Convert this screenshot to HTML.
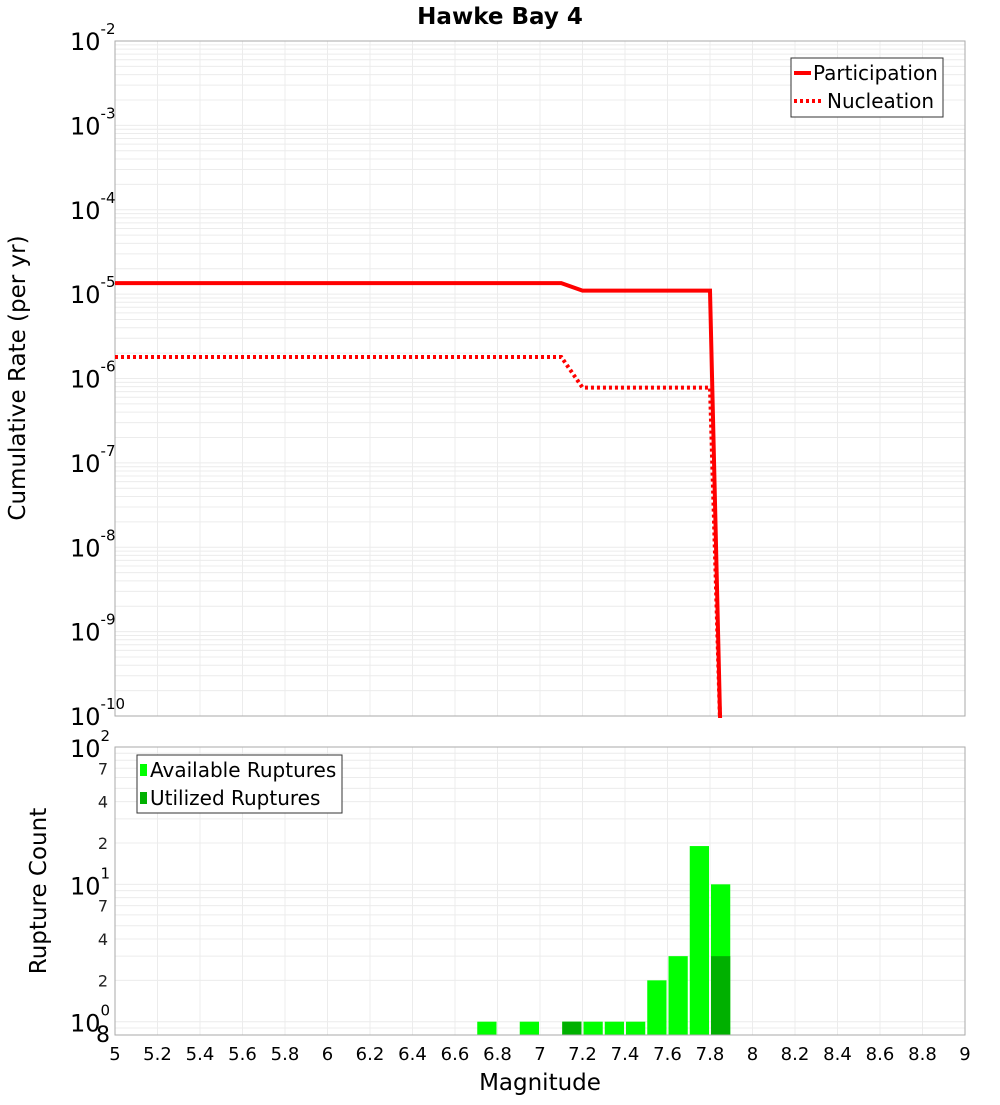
<!DOCTYPE html>
<html><head><meta charset="utf-8"><style>
body{margin:0;background:#fff;font-family:"Liberation Sans","DejaVu Sans",sans-serif}
svg text{font-family:"DejaVu Sans","Liberation Sans",sans-serif}
</style></head><body>
<svg id="c" width="1000" height="1100" xmlns="http://www.w3.org/2000/svg">
<rect width="1000" height="1100" fill="#fff"/>
<text x="500" y="24" text-anchor="middle" font-size="23" font-weight="bold">Hawke Bay 4</text>
<g id="top"></g><g id="bot"></g>
</svg>
<script>
const mags=[5.0,7.1,7.2,7.8,7.85];
const partRates=[1.35e-5,1.35e-5,1.1e-5,1.1e-5,5e-11];
const nuclRates=[1.8e-6,1.8e-6,7.8e-7,7.8e-7,5e-11];
const binCenters=[6.75,6.95,7.15,7.25,7.35,7.45,7.55,7.65,7.75,7.85];
const availCounts=[1,1,1,1,1,1,2,3,19,10];
const usedCounts=[0,0,1,0,0,0,0,0,0,3];
const xTicks=[5,5.2,5.4,5.6,5.8,6,6.2,6.4,6.6,6.8,7,7.2,7.4,7.6,7.8,8,8.2,8.4,8.6,8.8,9];
const xTickLabels=["5","5.2","5.4","5.6","5.8","6","6.2","6.4","6.6","6.8","7","7.2","7.4","7.6","7.8","8","8.2","8.4","8.6","8.8","9"];
const topExps=[-2,-3,-4,-5,-6,-7,-8,-9,-10];
const botMinorLabels=[[70,"7"],[40,"4"],[20,"2"],[7,"7"],[4,"4"],[2,"2"]];
const NS="http://www.w3.org/2000/svg";
const svg=document.getElementById('c');
function mk(t,a,p){const e=document.createElementNS(NS,t);for(const k in a)e.setAttribute(k,a[k]);(p||svg).appendChild(e);return e;}
const L=115,R=965;
const X=m=>L+(m-5)/4*(R-L);
const T0=41,T1=716;
const Yt=v=>T0+(-2-Math.log10(v))/8*(T1-T0);
const B0=747,B1=1035;
const lbMin=Math.log10(0.8);
const Yb=v=>B0+(2-Math.log10(v))/(2-lbMin)*(B1-B0);
const gt=document.getElementById('top'),gb=document.getElementById('bot');
for(let e=-10;e<-2;e++)for(let k=1;k<10;k++){const y=Yt(k*Math.pow(10,e));const l=mk('line',{x1:L,x2:R,y1:y,y2:y,stroke:'#ececec','stroke-width':1},gt);}
xTicks.forEach(m=>{const l=mk('line',{x1:X(m),x2:X(m),y1:T0,y2:T1,stroke:'#ececec'},gt);});
const tf=mk('rect',{x:L,y:T0,width:R-L,height:T1-T0,fill:'none',stroke:'#aaa'},gt);

topExps.forEach(e=>{const y=Yt(Math.pow(10,e));const t=mk('text',{x:70,y:y+9,'font-size':24},gt);t.textContent='10';const s=mk('tspan',{dy:-16,'font-size':15},t);s.textContent=String(e);});
const yt=mk('text',{transform:'translate(25,378) rotate(-90)','text-anchor':'middle','font-size':23},gt);yt.textContent='Cumulative Rate (per yr)';

const cp=mk('clipPath',{id:'tc'},gt);mk('rect',{x:L,y:T0,width:R-L,height:T1-T0+2},cp);
const pl=mk('polyline',{points:mags.map((m,i)=>X(m)+','+Yt(partRates[i])).join(' '),fill:'none',stroke:'#f00','stroke-width':4,'clip-path':'url(#tc)'},gt);

const nl=mk('polyline',{points:mags.map((m,i)=>X(m)+','+Yt(nuclRates[i])).join(' '),fill:'none',stroke:'#f00','stroke-width':4,'stroke-dasharray':'3,3','clip-path':'url(#tc)'},gt);

const lg=mk('g',{},gt);
mk('rect',{x:791,y:58,width:152,height:59,fill:'#fff',stroke:'#333'},lg);
mk('line',{x1:794,x2:811,y1:73,y2:73,stroke:'#f00','stroke-width':4},lg);
mk('line',{x1:794,x2:824,y1:101,y2:101,stroke:'#f00','stroke-width':4,'stroke-dasharray':'3,3'},lg);
let t1=mk('text',{x:813,y:80,'font-size':20},lg);t1.textContent='Participation';
let t2=mk('text',{x:827,y:108,'font-size':20},lg);t2.textContent='Nucleation';
[0.8,0.9,1,2,3,4,5,6,7,8,9,10,20,30,40,50,60,70,80,90,100].forEach(v=>{const y=Yb(v);const l=mk('line',{x1:L,x2:R,y1:y,y2:y,stroke:'#ececec'},gb);});
xTicks.forEach(m=>{const l=mk('line',{x1:X(m),x2:X(m),y1:B0,y2:B1,stroke:'#ececec'},gb);});
binCenters.forEach((c,i)=>{const x0=X(c-0.05)+1,w=X(c+0.05)-X(c-0.05)-2;
 const r=mk('rect',{x:x0,y:Yb(availCounts[i]),width:w,height:B1-Yb(availCounts[i]),fill:'#00ff00'},gb);
 if(usedCounts[i]>0){const u=mk('rect',{x:x0,y:Yb(usedCounts[i]),width:w,height:B1-Yb(usedCounts[i]),fill:'#00b000'},gb);}});
const bf=mk('rect',{x:L,y:B0,width:R-L,height:B1-B0,fill:'none',stroke:'#aaa'},gb);

[[2,'2'],[1,'1'],[0,'0']].forEach(([e,s])=>{const y=Yb(Math.pow(10,e));const t=mk('text',{x:70,y:y+10,'font-size':24},gb);t.textContent='10';const sp=mk('tspan',{dy:-16,'font-size':15},t);sp.textContent=s;});
botMinorLabels.forEach(([v,s])=>{const t=mk('text',{x:108,y:Yb(v)+6,'font-size':16,'text-anchor':'end',fill:'#222'},gb);t.textContent=s;});
const e8=mk('text',{x:96,y:1042,'font-size':22},gb);e8.textContent='8';
const yb=mk('text',{transform:'translate(46,891) rotate(-90)','text-anchor':'middle','font-size':23},gb);yb.textContent='Rupture Count';

xTicks.forEach((m,i)=>{const t=mk('text',{x:X(m),y:1060,'font-size':18,'text-anchor':'middle'},gb);t.textContent=xTickLabels[i];});
const xt=mk('text',{x:540,y:1090,'font-size':23,'text-anchor':'middle'},gb);xt.textContent='Magnitude';

const bl=mk('g',{},gb);
mk('rect',{x:137,y:755,width:205,height:58,fill:'#fff',stroke:'#333'},bl);
mk('rect',{x:140,y:764,width:7,height:12,fill:'#00ff00'},bl);
mk('rect',{x:140,y:792,width:7,height:12,fill:'#00b000'},bl);
let t3=mk('text',{x:150,y:777,'font-size':20},bl);t3.textContent='Available Ruptures';
let t4=mk('text',{x:150,y:805,'font-size':20},bl);t4.textContent='Utilized Ruptures';
</script>
</body></html>
